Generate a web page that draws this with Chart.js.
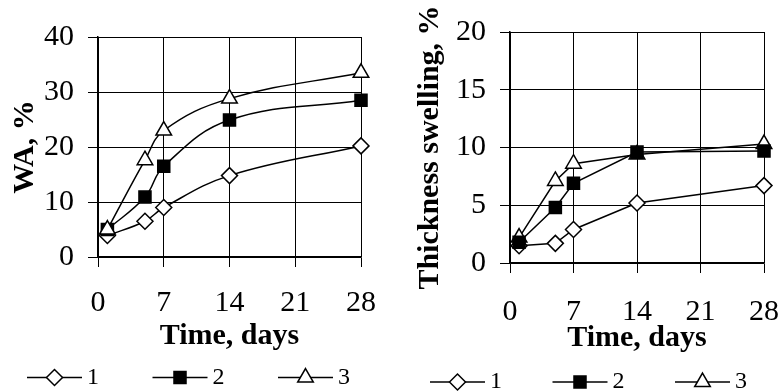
<!DOCTYPE html>
<html>
<head>
<meta charset="utf-8">
<script src="https://cdn.jsdelivr.net/npm/chart.js@4.4.1/dist/chart.umd.min.js"></script>
<style>
  html, body { margin: 0; padding: 0; background: #fff; overflow: hidden; }
  .box { position: absolute; top: 0; }
  #wa-box { left: 0; }
  #ts-box { left: 390px; }
</style>
</head>
<body>
<div class="box" id="wa-box"><canvas id="wa" width="394" height="392"></canvas></div>
<div class="box" id="ts-box"><canvas id="ts" width="410" height="392"></canvas></div>
<script>
// data
const days = [1, 5, 7, 14, 28];
const seriesNames = ["1", "2", "3"];
const wa1 = [3.9, 6.5, 9.0, 14.8, 20.2];
const wa2 = [5.0, 10.9, 16.5, 24.9, 28.5];
const wa3 = [5.0, 17.6, 23.0, 28.8, 33.5];
const ts1 = [1.5, 1.7, 2.9, 5.2, 6.7];
const ts2 = [1.8, 4.8, 6.9, 9.6, 9.7];
const ts3 = [2.2, 7.1, 8.6, 9.4, 10.3];
const dayTicks = [0, 7, 14, 21, 28];
const waTicks = [0, 10, 20, 30, 40];
const tsTicks = [0, 5, 10, 15, 20];

const SERIF = "'Liberation Serif', 'Times New Roman', serif";

// marker look per series: diamond, filled square, triangle
const markers = [
  { pointStyle: "rectRot", radius: 8, bg: "#fff" },
  { pointStyle: "rect", radius: 8.5, bg: "#000" },
  { pointStyle: "triangle", radius: 9, bg: "#fff" }
];

// legend drawn under each chart: line with marker, then the series name
const lineLegend = {
  id: "lineLegend",
  afterDraw(chart, args, o) {
    const ctx = chart.ctx;
    ctx.save();
    chart.data.datasets.forEach((ds, i) => {
      const x = o.x0 + i * o.pitch;
      const y = o.y;
      ctx.strokeStyle = "#000";
      ctx.lineWidth = 1.5;
      ctx.beginPath();
      ctx.moveTo(x, y);
      ctx.lineTo(x + o.lineLen, y);
      ctx.stroke();
      ctx.fillStyle = ds.pointBackgroundColor;
      ctx.lineWidth = ds.pointBorderWidth;
      Chart.helpers.drawPoint(ctx, {
        pointStyle: ds.pointStyle, radius: ds.pointRadius, rotation: 0, borderWidth: ds.pointBorderWidth
      }, x + o.lineLen / 2, y);
      ctx.fillStyle = "#000";
      ctx.font = o.font;
      ctx.textAlign = "left";
      ctx.textBaseline = "middle";
      ctx.fillText(ds.label, x + o.lineLen + o.gap, y);
    });
    ctx.restore();
  }
};

function axisBase(tickList) {
  return {
    type: "linear",
    min: tickList[0],
    max: tickList[tickList.length - 1],
    afterBuildTicks: s => { s.ticks = tickList.map(v => ({ value: v })); },
    grid: { color: "#000", lineWidth: 1, tickLength: 10 },
    border: { color: "#000", width: 1.5 }
  };
}

function makeChart(id, series, yTicks, yTitle, lay) {
  const datasets = series.map((vals, i) => ({
    label: seriesNames[i],
    data: days.map((d, k) => ({ x: d, y: vals[k] })),
    borderColor: "#000",
    borderWidth: 1.5,
    tension: lay.tension,
    clip: false,
    pointStyle: markers[i].pointStyle,
    pointRadius: markers[i].radius,
    pointBackgroundColor: markers[i].bg,
    pointBorderColor: "#000",
    pointBorderWidth: 1.5,
    order: lay.order[i]
  }));

  return new Chart(document.getElementById(id), {
    type: "line",
    data: { datasets },
    options: {
      responsive: false,
      animation: false,
      events: [],
      layout: { padding: lay.padding },
      plugins: {
        legend: { display: false },
        tooltip: { enabled: false },
        lineLegend: lay.legend
      },
      scales: {
        x: Object.assign(axisBase(dayTicks), {
          afterFit: s => { s.height = lay.xHeight; },
          ticks: { color: "#000", font: { family: SERIF, size: 30 }, padding: lay.xPad, maxRotation: 0, autoSkip: false },
          title: { display: true, text: "Time, days", color: "#000", font: { family: SERIF, size: 30, weight: "bold" }, padding: 0 }
        }),
        y: Object.assign(axisBase(yTicks), {
          afterFit: s => { s.width = lay.yWidth; },
          ticks: { color: "#000", font: { family: SERIF, size: 30 }, padding: 14 },
          title: { display: true, text: yTitle, color: "#000", font: { family: SERIF, size: 30, weight: "bold" }, padding: { top: lay.yTitlePad, bottom: 0 } }
        })
      }
    },
    plugins: [lineLegend]
  });
}

makeChart("wa", [wa1, wa2, wa3], waTicks, "WA, %", {
  tension: 0.4,
  order: [3, 2, 1],
  padding: { top: 37, left: 0, right: 33, bottom: 38 },
  xHeight: 97, xPad: 18, yWidth: 98, yTitlePad: 7,
  legend: { x0: 27, pitch: 125.5, y: 377.5, lineLen: 55, gap: 5, font: "24px " + SERIF }
});

makeChart("ts", [ts1, ts2, ts3], tsTicks, "Thickness swelling, %", {
  tension: 0,
  order: [3, 1, 2],
  padding: { top: 32, left: 0, right: 36, bottom: 36 },
  xHeight: 93, xPad: 21, yWidth: 120, yTitlePad: 22,
  legend: { x0: 40, pitch: 122.5, y: 382, lineLen: 55, gap: 5, font: "24px " + SERIF }
});
</script>
</body>
</html>
